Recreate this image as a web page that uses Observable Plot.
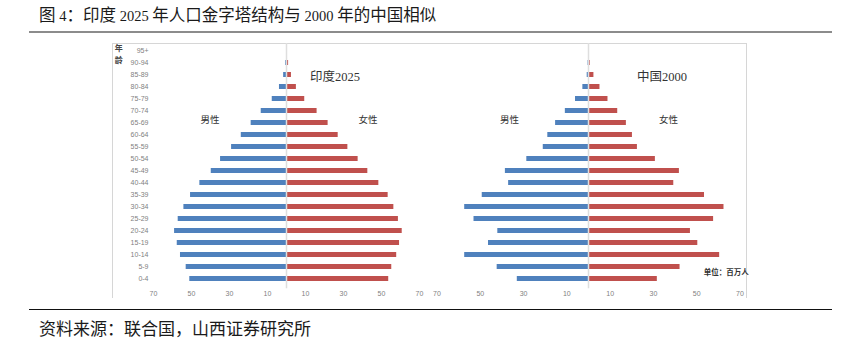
<!DOCTYPE html>
<html>
<head>
<meta charset="utf-8">
<script src="https://cdn.jsdelivr.net/npm/d3@7"></script>
<script src="https://cdn.jsdelivr.net/npm/@observablehq/plot@0.6"></script>
<style>
  html, body { margin: 0; padding: 0; background: #fff; }
  #page { position: relative; width: 847px; height: 349px; overflow: hidden; font-family: "Liberation Serif", "Noto Sans CJK SC", sans-serif; }
  .abs { position: absolute; }
  #title { left: 39px; top: 3px; font-size: 16.5px; color: #1a1a1a; white-space: nowrap; line-height: 22px; font-family: "Noto Sans CJK SC", sans-serif; }
  #title .n { font-family: "Liberation Serif", serif; font-size: 14.5px; }
  #source { left: 39px; top: 317px; font-size: 17px; color: #1a1a1a; white-space: nowrap; line-height: 22px; font-family: "Noto Sans CJK SC", sans-serif; }
  #topline { left: 29px; top: 31px; width: 803px; height: 2px; background: #8c8c8c; }
  #botline { left: 29px; top: 309px; width: 803px; height: 1px; background: #111; }
  #box { left: 112px; top: 43px; width: 633px; height: 254px; border: 1.5px solid #d6d6d6; border-bottom: none; }
  .plot { position: absolute; top: 30px; }
  .plot svg { overflow: visible; }
</style>
</head>
<body>
<div id="page">
  <div id="title" class="abs">图 <span class="n">4</span>：印度 <span class="n">2025</span> 年人口金字塔结构与 <span class="n">2000</span> 年的中国相似</div>
  <div id="topline" class="abs"></div>
  <div id="box" class="abs"></div>
  <div id="left" class="plot" style="left:112px"></div>
  <div id="right" class="plot" style="left:425px"></div>
  <div id="botline" class="abs"></div>
  <div id="source" class="abs">资料来源：联合国，山西证券研究所</div>
</div>
<script>
// ---- data (millions), oldest group first ----
const ages = ["95+","90-94","85-89","80-84","75-79","70-74","65-69","60-64","55-59","50-54",
              "45-49","40-44","35-39","30-34","25-29","20-24","15-19","10-14","5-9","0-4"];
const indiaMale   = [0, 0.4, 1.5, 3.7, 7.5, 13.3, 18.6, 23.8, 28.9, 34.7, 39.6, 45.6, 50.5, 54.0, 57.0, 58.9, 57.5, 55.8, 52.8, 50.9];
const indiaFemale = [0, 1.1, 2.6, 5.2, 9.6, 16.1, 21.9, 27.2, 32.3, 37.7, 42.8, 48.6, 53.5, 56.5, 58.9, 60.9, 59.5, 58.0, 55.4, 53.8];
const chinaMale   = [0, 0.2, 0.6, 2.6, 6.0, 10.7, 15.2, 18.8, 20.9, 28.5, 38.4, 36.9, 49.1, 57.2, 52.9, 41.9, 46.2, 57.2, 42.2, 32.9];
const chinaFemale = [0, 0.8, 2.5, 5.3, 9.0, 13.5, 17.5, 20.3, 22.6, 30.9, 42.0, 39.4, 53.6, 62.6, 57.8, 47.1, 50.5, 60.6, 42.3, 31.8];
const xTicks = [-70, -50, -30, -10, 10, 30, 50, 70];
const leftLabels  = {title: "印度2025", male: "男性", female: "女性"};
const rightLabels = {title: "中国2000", male: "男性", female: "女性", unit: "单位：百万人"};
const ageAxisTitle = ["年", "龄"];

const BLUE = "#4f81bd", RED = "#c0504d";
const SVG_TOP = 30, SVG_H = 275;
const n = ages.length, pad = 0.6, step = 12.07, firstCenter = 49.3;
const T = firstCenter - step * (pad + (1 - pad) / 2);
const B = T + step * (n - pad + 2 * pad);
const MT = T - SVG_TOP, MB = SVG_TOP + SVG_H - B;
const boxTop = 43;

function rows(male, female) {
  const r = [];
  ages.forEach((a, i) => {
    r.push({age: a, sex: "M", v: -male[i]});
    r.push({age: a, sex: "F", v: female[i]});
  });
  return r;
}

const serif = "'Liberation Serif','Noto Sans CJK SC',serif";

function pyramid({male, female, width, ml, mr, labels, showAges, ann}) {
  const data = rows(male, female);
  const marks = [
    Plot.barX(data, {x1: 0, x2: "v", y: "age", fill: d => d.sex === "M" ? BLUE : RED}),
    Plot.ruleX([0], {stroke: "#dedede", strokeWidth: 1.5, insetTop: boxTop - T, insetBottom: 0}),
    Plot.axisX({ticks: xTicks, tickFormat: d => Math.abs(d), tickSize: 0, tickPadding: 2,
                fontSize: 7, fill: "#7f7f7f", fontFamily: "'Liberation Sans',sans-serif", label: null}),
    Plot.text(ann.big, {x: "x", y: "y", text: "t", dy: 2, fontSize: 12.5, fill: "#333", fontFamily: serif}),
    Plot.text(ann.sex, {x: "x", y: "y", text: "t", dy: "dy", fontSize: 9.5, fill: "#333", fontFamily: serif})
  ];
  if (showAges) {
    marks.push(Plot.axisY({tickSize: 0, tickPadding: 5, fontSize: 7, fill: "#7f7f7f",
                           fontFamily: "'Liberation Sans',sans-serif", label: null}));
    marks.push(Plot.text(ann.ageTitle, {x: "x", y: "y", text: "t", dy: "dy", fontSize: 8, fontWeight: "bold",
                           fill: "#444", fontFamily: "'Noto Sans CJK SC',sans-serif"}));
  }
  if (ann.unit) {
    marks.push(Plot.text(ann.unit, {x: "x", y: "y", text: "t", dy: 5.6, fontSize: 7.5, fontWeight: "bold",
                           fill: "#333", fontFamily: serif}));
  }
  return Plot.plot({
    width, height: SVG_H,
    marginLeft: ml, marginRight: mr, marginTop: MT, marginBottom: MB,
    style: {background: "transparent", overflow: "visible"},
    x: {domain: [-70, 70]},
    y: {domain: ages, padding: pad, axis: null},
    marks
  });
}

// left pyramid: x -70..70 -> page 153..419
document.getElementById("left").appendChild(pyramid({
  male: indiaMale, female: indiaFemale, width: 318, ml: 41, mr: 11, showAges: true,
  ann: {
    big: [{x: 25.5, y: "85-89", t: leftLabels.title}],
    sex: [{x: -40, y: "65-69", t: leftLabels.male, dy: 0}, {x: 43.2, y: "65-69", t: leftLabels.female, dy: -1.5}],
    ageTitle: [{x: -88, y: "95+", t: ageAxisTitle[0], dy: -1.3}, {x: -88, y: "90-94", t: ageAxisTitle[1], dy: -3.3}]
  }
}));

// right pyramid: x -70..70 -> page 436.5..739.5
document.getElementById("right").appendChild(pyramid({
  male: chinaMale, female: chinaFemale, width: 325, ml: 11.5, mr: 10.5, showAges: false,
  ann: {
    big: [{x: 34, y: "85-89", t: rightLabels.title}],
    sex: [{x: -36.3, y: "65-69", t: rightLabels.male, dy: 0}, {x: 37.2, y: "65-69", t: rightLabels.female, dy: -2.5}],
    unit: [{x: 63.7, y: "5-9", t: rightLabels.unit}]
  }
}));
</script>
</body>
</html>
